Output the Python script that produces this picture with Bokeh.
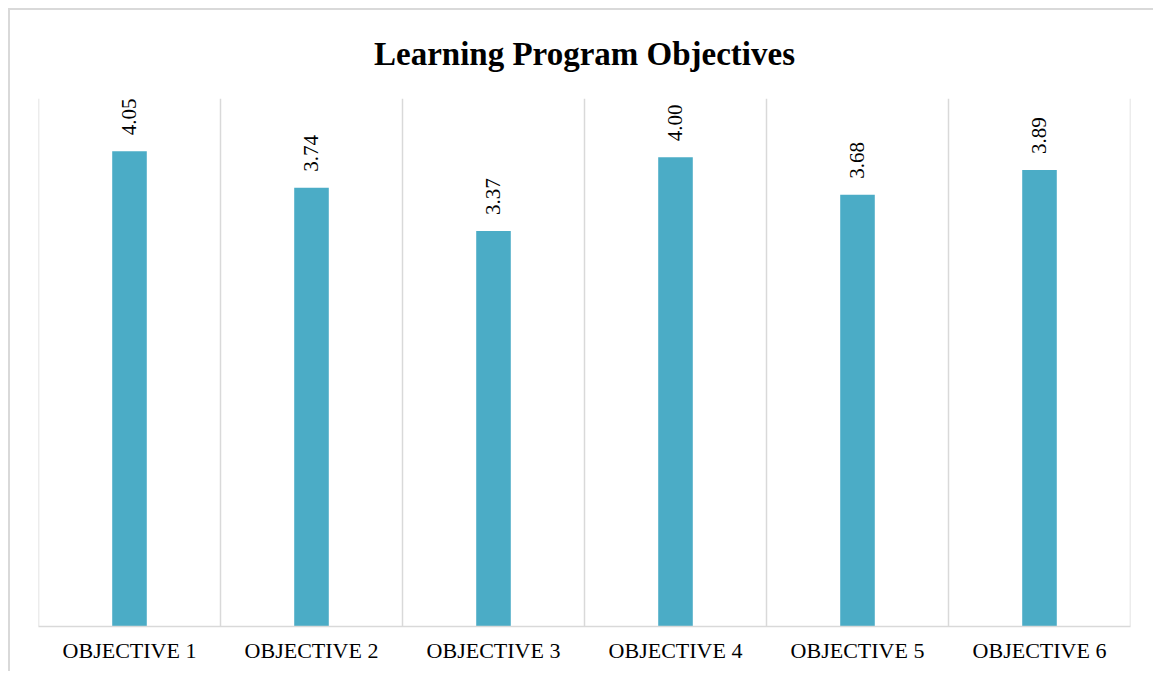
from bokeh.plotting import figure
from bokeh.models import Range1d, FixedTicker, ColumnDataSource, LabelSet, Span
from bokeh.embed import file_html
from bokeh.resources import INLINE

chart_title = "Learning Program Objectives"
categories = ["OBJECTIVE 1", "OBJECTIVE 2", "OBJECTIVE 3", "OBJECTIVE 4", "OBJECTIVE 5", "OBJECTIVE 6"]
scores = [4.05, 3.74, 3.37, 4.00, 3.68, 3.89]
score_labels = [f"{v:.2f}" for v in scores]

n = len(categories)
xs = [i + 0.5 for i in range(n)]

src = ColumnDataSource(dict(x=xs, top=scores, label=score_labels))

p = figure(frame_width=1092, frame_height=528, output_backend="svg", toolbar_location=None,
           x_range=Range1d(0, n), y_range=Range1d(0, 4.5),
           min_border_left=28, min_border_right=23, min_border_top=88, min_border_bottom=45,
           title=chart_title)
p.styles = {"margin-left": "8px", "margin-top": "8px",
            "border-left": "2px solid #d9d9d9", "border-top": "2px solid #d9d9d9"}
p.outline_line_color = None
p.background_fill_color = "white"
p.border_fill_color = "white"

p.title.align = "center"
p.title.vertical_align = "top"
p.title.text_font = "Liberation Serif"
p.title.text_font_size = "33px"
p.title.text_font_style = "bold"
p.title.text_color = "black"
p.title.standoff = 50

p.vbar(x="x", top="top", bottom=0, width=0.19, source=src, fill_color="#4BACC6", line_color=None)

labels = LabelSet(x="x", y="top", text="label", source=src, angle=90, angle_units="deg",
                  text_align="left", text_baseline="middle", y_offset=16,
                  text_font="Liberation Serif", text_font_size="21px", text_color="black")
p.add_layout(labels)

p.yaxis.visible = False
p.ygrid.visible = False

p.xgrid.ticker = FixedTicker(ticks=list(range(n + 1)))
p.xgrid.grid_line_color = "#d9d9d9"
p.xgrid.grid_line_width = 1.5
for edge in (0, n):
    p.add_layout(Span(location=edge, dimension="height", line_color="#d9d9d9", line_width=1.5))

ax = p.xaxis[0]
ax.ticker = FixedTicker(ticks=xs)
ax.major_label_overrides = {x: c for x, c in zip(xs, categories)}
ax.major_tick_line_color = None
ax.minor_tick_line_color = None
ax.axis_line_color = "#d9d9d9"
ax.axis_line_width = 1.5
ax.major_label_text_font = "Liberation Serif"
ax.major_label_text_font_size = "22px"
ax.major_label_text_color = "black"
ax.major_label_standoff = 5

open("out.html", "w").write(file_html(p, INLINE))
